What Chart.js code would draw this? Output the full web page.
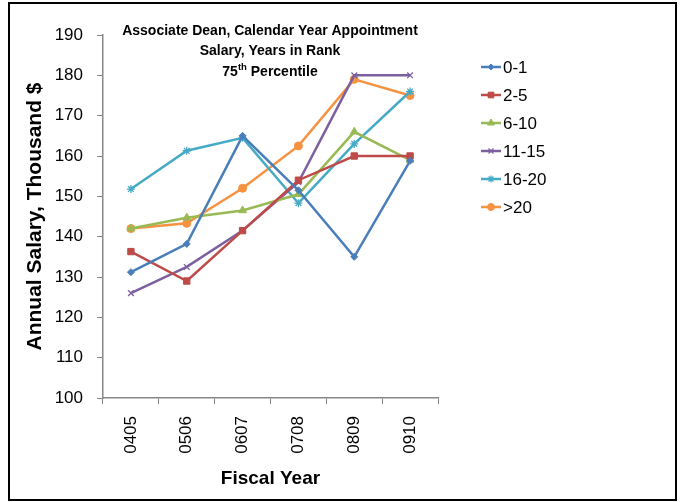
<!doctype html>
<html lang="en">
<head>
<meta charset="utf-8">
<title>Associate Dean 75th Percentile</title>
<script src="https://cdn.jsdelivr.net/npm/chart.js@4.4.0/dist/chart.umd.min.js"></script>
<style>
  html, body { margin: 0; padding: 0; background: #fff; }
  #wrap { width: 683px; height: 502px; }
</style>
</head>
<body>
<div id="wrap"><canvas id="myChart" width="683" height="502"></canvas></div>

<script>
// fiscal years on x axis
const years = ['0405', '0506', '0607', '0708', '0809', '0910'];

// salary in thousand $, one list per years-in-rank group
const rank01   = [131.2, 138.2, 165.0, 151.5, 135.0, 158.8];
const rank25   = [136.3, 129.0, 141.5, 154.0, 160.0, 160.0];
const rank610  = [142.0, 144.7, 146.5, 150.5, 166.0, 159.0];
const rank1115 = [126.0, 132.5, 141.5, 153.5, 180.0, 180.0];
const rank1620 = [151.8, 161.3, 164.5, 148.3, 163.0, 176.0];
const rank20   = [142.0, 143.3, 152.0, 162.5, 179.0, 175.0];

const groupNames = ['0-1', '2-5', '6-10', '11-15', '16-20', '>20'];

const FONT = "'Liberation Sans', Arial, sans-serif";

function series(label, values, color, style, radius) {
    return {
        label: label,
        data: values,
        borderColor: color,
        backgroundColor: color,
        borderWidth: 2.5,
        pointStyle: style,
        pointRadius: radius,
        pointBorderWidth: style === 'crossRot' || style === 'star' ? 1.3 : 1,
        pointBorderColor: color,
        pointBackgroundColor: color,
        tension: 0
    };
}

const data = {
    labels: years,
    datasets: [
        series(groupNames[0], rank01,   '#4A7EBB', 'rectRot', 3.5),
        series(groupNames[1], rank25,   '#BE4B48', 'rect', 4.5),
        series(groupNames[2], rank610,  '#98B954', 'triangle', 4.5),
        series(groupNames[3], rank1115, '#7D60A0', 'crossRot', 4),
        series(groupNames[4], rank1620, '#46AAC5', 'star', 4),
        series(groupNames[5], rank20,   '#F69240', 'circle', 4)
    ]
};

// title sits inside the plot area, like Excel does
const innerTitle = {
    id: 'innerTitle',
    afterDraw(chart) {
        const ctx = chart.ctx;
        const cx = 270;
        const big = 'bold 14px ' + FONT;
        const small = 'bold 9.5px ' + FONT;
        ctx.save();
        ctx.fillStyle = '#000';
        ctx.textBaseline = 'middle';
        ctx.textAlign = 'center';
        ctx.font = big;
        ctx.fillText('Associate Dean, Calendar Year Appointment', cx, 31);
        ctx.fillText('Salary, Years in Rank', cx, 51);
        // "75th Percentile" with superscript
        const a = '75', sup = 'th', b = ' Percentile';
        const wa = ctx.measureText(a).width;
        const wb = ctx.measureText(b).width;
        ctx.font = small;
        const ws = ctx.measureText(sup).width;
        let x = cx - (wa + ws + wb) / 2;
        ctx.textAlign = 'left';
        ctx.font = big;
        ctx.fillText(a, x, 72);
        ctx.font = small;
        ctx.fillText(sup, x + wa, 67);
        ctx.font = big;
        ctx.fillText(b, x + wa + ws, 72);
        ctx.restore();
    }
};

// Excel style legend: short line with the marker in the middle
const sideLegend = {
    id: 'sideLegend',
    afterDraw(chart) {
        const ctx = chart.ctx;
        ctx.save();
        chart.data.datasets.forEach((ds, i) => {
            const y = 67 + i * 28;
            ctx.strokeStyle = ds.borderColor;
            ctx.lineWidth = 2.5;
            ctx.beginPath();
            ctx.moveTo(481, y);
            ctx.lineTo(501, y);
            ctx.stroke();
            ctx.fillStyle = ds.pointBackgroundColor;
            ctx.strokeStyle = ds.pointBorderColor;
            ctx.lineWidth = ds.pointBorderWidth;
            Chart.helpers.drawPoint(ctx, {
                pointStyle: ds.pointStyle,
                radius: ds.pointRadius - 0.5,
                rotation: 0,
                borderWidth: ds.pointBorderWidth
            }, 491, y);
            ctx.fillStyle = '#000';
            ctx.font = '17px ' + FONT;
            ctx.textAlign = 'left';
            ctx.textBaseline = 'middle';
            ctx.fillText(ds.label, 503, y + 1);
        });
        ctx.restore();
    }
};

// black frame round the whole picture
const frame = {
    id: 'frame',
    afterDraw(chart) {
        const ctx = chart.ctx;
        ctx.save();
        ctx.strokeStyle = '#000';
        ctx.lineWidth = 2;
        ctx.strokeRect(9, 3, 667, 497);
        ctx.restore();
    }
};

const config = {
    type: 'line',
    data: data,
    options: {
        responsive: false,
        animation: false,
        layout: {
            padding: { left: 10, top: 35, right: 245, bottom: 12 }
        },
        plugins: {
            legend: { display: false },
            title: { display: false },
            tooltip: { enabled: false }
        },
        scales: {
            x: {
                offset: true,
                grid: {
                    offset: true,
                    drawOnChartArea: false,
                    tickLength: 6,
                    color: '#888'
                },
                border: { color: '#888', width: 1.5 },
                ticks: {
                    minRotation: 90,
                    maxRotation: 90,
                    padding: 12,
                    color: '#000',
                    font: { family: FONT, size: 17 }
                },
                title: {
                    display: true,
                    text: 'Fiscal Year',
                    color: '#000',
                    font: { family: FONT, size: 19, weight: 'bold' },
                    padding: { top: 0, bottom: 0 }
                },
                afterFit(scale) { scale.height = 92; }
            },
            y: {
                min: 100,
                max: 190,
                ticks: {
                    stepSize: 10,
                    padding: 14,
                    color: '#000',
                    font: { family: FONT, size: 17 }
                },
                grid: {
                    drawOnChartArea: false,
                    tickLength: 6,
                    color: '#888'
                },
                border: { color: '#888', width: 1.5 },
                title: {
                    display: true,
                    text: 'Annual Salary, Thousand $',
                    color: '#000',
                    font: { family: FONT, size: 21, weight: 'bold' },
                    padding: { top: 13, bottom: 0 }
                },
                afterFit(scale) { scale.width = 93; }
            }
        }
    },
    plugins: [innerTitle, sideLegend, frame]
};

const myChart = new Chart(document.getElementById('myChart'), config);
</script>
</body>
</html>
